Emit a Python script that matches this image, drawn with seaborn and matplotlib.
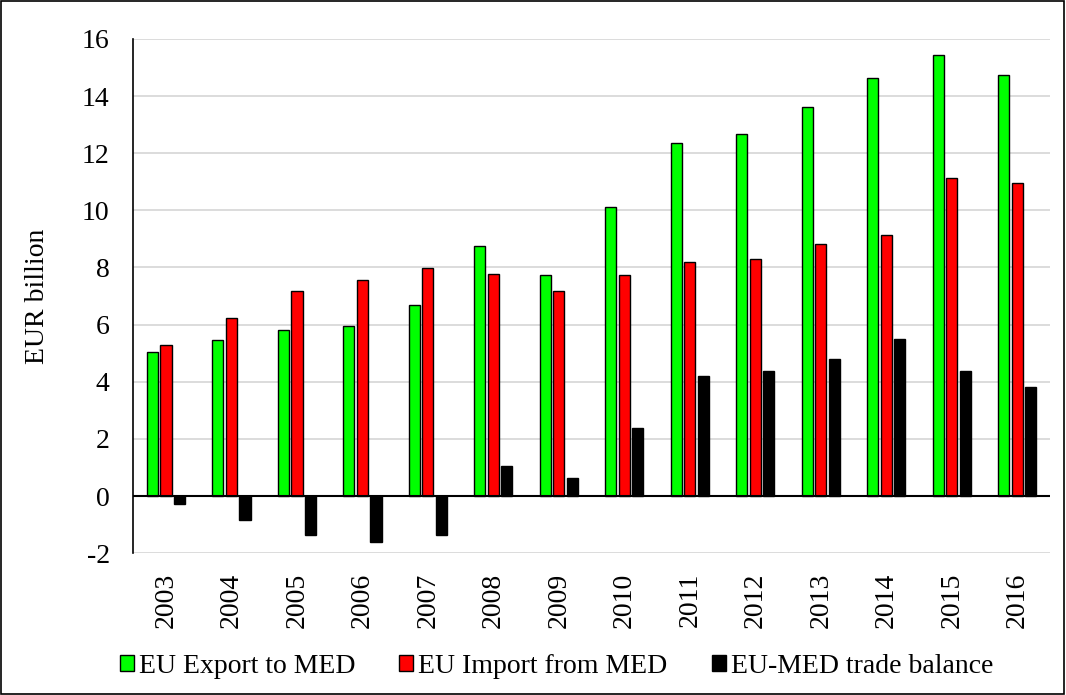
import matplotlib
matplotlib.use("Agg")
import matplotlib.pyplot as plt
import seaborn as sns
import pandas as pd
from matplotlib.patches import Rectangle

years = ["2003", "2004", "2005", "2006", "2007", "2008", "2009", "2010",
         "2011", "2012", "2013", "2014", "2015", "2016"]
export_vals = [5.06, 5.45, 5.81, 5.94, 6.68, 8.75, 7.75, 10.12, 12.37, 12.68, 13.63, 14.62, 15.44, 14.75]
import_vals = [5.30, 6.24, 7.19, 7.56, 7.99, 7.76, 7.19, 7.75, 8.19, 8.31, 8.81, 9.12, 11.12, 10.94]
balance_vals = [-0.29, -0.85, -1.35, -1.60, -1.35, 1.06, 0.62, 2.39, 4.19, 4.39, 4.81, 5.50, 4.39, 3.81]
series_names = ["EU Export to MED", "EU Import from MED", "EU-MED trade balance"]
colors = ["#00ff00", "#ff0000", "#000000"]

df = pd.DataFrame({
    "year": years * 3,
    "value": export_vals + import_vals + balance_vals,
    "series": [series_names[0]] * len(years) + [series_names[1]] * len(years) + [series_names[2]] * len(years),
})

sns.set_theme(style="white")
plt.rcParams["font.family"] = ["Liberation Serif", "DejaVu Serif"]
plt.rcParams["axes.unicode_minus"] = False
plt.rcParams["text.color"] = "black"
plt.rcParams["axes.labelcolor"] = "black"

fig = plt.figure(figsize=(10.66, 6.95), dpi=100)
ax = fig.add_axes([0.125, 0.204, 0.86, 0.740])

sns.barplot(data=df, x="year", y="value", hue="series", palette=colors,
            width=0.62, gap=0.18, edgecolor="black", linewidth=1.0,
            errorbar=None, ax=ax, saturation=1)

ax.set_ylim(-2, 16)
ax.set_xlim(-0.5, len(years) - 0.5)
ax.set_yticks(range(-2, 17, 2))
ax.yaxis.grid(True, color="#d9d9d9", linewidth=1.3)
ax.set_axisbelow(True)
for s in ["top", "right", "bottom"]:
    ax.spines[s].set_visible(False)
ax.spines["left"].set_color("black")
ax.spines["left"].set_linewidth(1.2)
ax.axhline(0, color="black", linewidth=1.5, zorder=3)

ax.tick_params(axis="y", labelsize=20, length=0, pad=17, colors="black")
ax.tick_params(axis="x", labelsize=20, length=0, pad=14, colors="black", labelrotation=90)
ax.set_xlabel("")
ax.set_ylabel("EUR billion", fontsize=20, color="black", labelpad=23)

leg = ax.legend(loc="center", bbox_to_anchor=(0.522, 0.041), bbox_transform=fig.transFigure,
                ncol=3, frameon=False, fontsize=20, handlelength=0.5, handleheight=0.5,
                handletextpad=0.18, columnspacing=1.6, borderpad=0)
for h in leg.legend_handles:
    h.set_edgecolor("black")
    h.set_linewidth(1.0)
for t in leg.get_texts():
    t.set_color("black")

fig.patches.append(Rectangle((0.001, 0.002), 0.997, 0.996, transform=fig.transFigure,
                             fill=False, edgecolor="black", linewidth=1.2))

fig.savefig("out.png", dpi=100, facecolor="white")
